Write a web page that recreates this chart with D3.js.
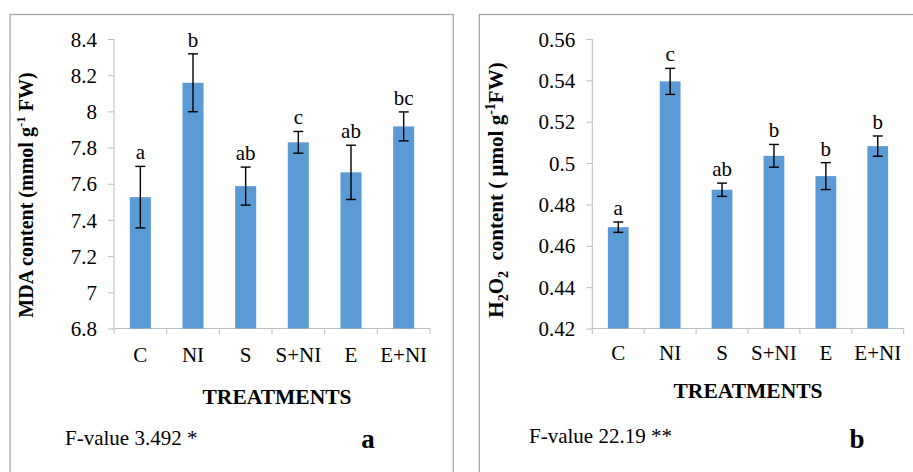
<!DOCTYPE html>
<html>
<head>
<meta charset="utf-8">
<script src="https://cdn.jsdelivr.net/npm/d3@7"></script>
<style>
  body { margin: 0; background: #fff; }
</style>
</head>
<body>
<div id="chart"></div>
<script>
// data
const treatments = ["C", "NI", "S", "S+NI", "E", "E+NI"];

const mdaValues  = [7.526, 8.158, 7.587, 7.829, 7.663, 7.917];
const mdaErrors  = [0.170, 0.160, 0.105, 0.060, 0.150, 0.080];
const mdaLetters = ["a", "b", "ab", "c", "ab", "bc"];
const mdaTicks   = [6.8, 7, 7.2, 7.4, 7.6, 7.8, 8, 8.2, 8.4];

const h2o2Values  = [0.469, 0.5395, 0.4871, 0.5035, 0.4937, 0.5082];
const h2o2Errors  = [0.0025, 0.0063, 0.0032, 0.0055, 0.0065, 0.0049];
const h2o2Letters = ["a", "c", "ab", "b", "b", "b"];
const h2o2Ticks   = [0.42, 0.44, 0.46, 0.48, 0.5, 0.52, 0.54, 0.56];

const barColor = "#5b9bd5";
const axisColor = "#bfbfbf";
const serif = "Liberation Serif";
const fs = 21;

let svg = d3.select("#chart").append("svg")
    .attr("width", 913)
    .attr("height", 472)
    .style("font-family", serif);

function drawPanel(opt) {
    let g = svg.append("g");

    // frame of the panel
    g.append("rect")
        .attr("x", opt.frame[0])
        .attr("y", 14.5)
        .attr("width", opt.frame[1] - opt.frame[0])
        .attr("height", 500)
        .attr("fill", "none")
        .attr("stroke", "#a6a6a6")
        .attr("stroke-width", 1.3);

    let x = d3.scaleBand()
        .domain(treatments)
        .range([opt.left, opt.right]);
    let y = d3.scaleLinear()
        .domain(opt.domain)
        .range([328.5, 39]);

    // y axis
    let yAxis = g.append("g")
        .attr("transform", `translate(${opt.left},0)`)
        .call(d3.axisLeft(y).tickValues(opt.ticks).tickSize(6).tickPadding(11)
            .tickFormat(d => +d.toFixed(2) + ""));
    yAxis.attr("font-family", null).attr("font-size", null);
    yAxis.select(".domain").attr("stroke", axisColor).attr("d", `M0,328.5V39`);
    yAxis.selectAll(".tick line").attr("stroke", axisColor);
    yAxis.selectAll(".tick text")
        .attr("dy", "0.34em")
        .style("font-size", fs + "px")
        .style("font-family", serif);

    // x axis: tick marks on the band edges
    let xg = g.append("g");
    xg.append("line")
        .attr("x1", opt.left).attr("x2", opt.right)
        .attr("y1", 328.5).attr("y2", 328.5)
        .attr("stroke", axisColor);
    let edges = treatments.map(d => x(d)).concat([x.range()[1]]);
    xg.selectAll("line.edge")
        .data(edges)
        .join("line")
        .attr("class", "edge")
        .attr("x1", d => d).attr("x2", d => d)
        .attr("y1", 328.5).attr("y2", 334)
        .attr("stroke", axisColor);
    xg.selectAll("text")
        .data(treatments)
        .join("text")
        .attr("x", d => x(d) + x.bandwidth() / 2)
        .attr("y", opt.catY)
        .attr("text-anchor", "middle")
        .style("font-size", fs + "px")
        .style("font-family", serif)
        .text(d => d);

    // bars
    let bw = x.bandwidth() * 0.4;
    g.selectAll("rect.bar")
        .data(opt.values)
        .join("rect")
        .attr("class", "bar")
        .attr("x", (d, i) => x(treatments[i]) + (x.bandwidth() - bw) / 2)
        .attr("width", bw)
        .attr("y", d => y(d))
        .attr("height", d => 328.5 - y(d))
        .attr("fill", barColor);

    // error bars
    let eb = g.selectAll("g.err")
        .data(opt.values)
        .join("g")
        .attr("class", "err")
        .attr("stroke", "#000")
        .attr("stroke-width", 1.4);
    let cx = (d, i) => x(treatments[i]) + x.bandwidth() / 2;
    eb.append("line")
        .attr("x1", cx).attr("x2", cx)
        .attr("y1", (d, i) => y(d + opt.errors[i]))
        .attr("y2", (d, i) => y(d - opt.errors[i]));
    eb.append("line")
        .attr("x1", (d, i) => cx(d, i) - 5).attr("x2", (d, i) => cx(d, i) + 5)
        .attr("y1", (d, i) => y(d + opt.errors[i]))
        .attr("y2", (d, i) => y(d + opt.errors[i]));
    eb.append("line")
        .attr("x1", (d, i) => cx(d, i) - 5).attr("x2", (d, i) => cx(d, i) + 5)
        .attr("y1", (d, i) => y(d - opt.errors[i]))
        .attr("y2", (d, i) => y(d - opt.errors[i]));

    // significance letters
    g.selectAll("text.letter")
        .data(opt.values)
        .join("text")
        .attr("class", "letter")
        .attr("x", cx)
        .attr("y", (d, i) => y(d + opt.errors[i]) - 7)
        .attr("text-anchor", "middle")
        .style("font-size", fs + "px")
        .style("font-family", serif)
        .text((d, i) => opt.letters[i]);

    // axis titles
    g.append("text")
        .attr("x", (opt.left + opt.right) / 2 + opt.titleShift)
        .attr("y", opt.titleY)
        .attr("text-anchor", "middle")
        .style("font-size", "21.5px")
        .style("font-weight", "bold")
        .style("font-family", serif)
        .text("TREATMENTS");

    let yl = g.append("text")
        .attr("transform", `translate(${opt.yLabelX},${opt.yLabelY}) rotate(-90)`)
        .attr("text-anchor", "middle")
        .style("font-size", opt.yLabelSize + "px")
        .style("font-weight", "bold")
        .style("font-family", serif);
    opt.yLabel(yl);

    // notes under the chart
    g.append("text")
        .attr("x", opt.fX)
        .attr("y", opt.fY)
        .style("font-size", fs + "px")
        .style("font-family", serif)
        .text(opt.fText);
    g.append("text")
        .attr("x", opt.tagX)
        .attr("y", 448)
        .attr("text-anchor", "middle")
        .style("font-size", "27px")
        .style("font-weight", "bold")
        .style("font-family", serif)
        .text(opt.tag);
}

drawPanel({
    frame: [10, 453.3],
    left: 114, right: 430,
    domain: [6.8, 8.4],
    ticks: mdaTicks,
    values: mdaValues, errors: mdaErrors, letters: mdaLetters,
    catY: 362, titleY: 404, titleShift: 5,
    yLabelX: 33, yLabelY: 195, yLabelSize: 20,
    yLabel: t => {
        t.append("tspan").text("MDA content (mmol g");
        t.append("tspan").style("font-size", "13px").attr("dy", -8).text("-1");
        t.append("tspan").attr("dy", 8).text(" FW)");
    },
    fX: 65, fY: 445, fText: "F-value 3.492 *",
    tag: "a", tagX: 368
});

drawPanel({
    frame: [479.3, 1000],
    left: 592.3, right: 903.7,
    domain: [0.42, 0.56],
    ticks: h2o2Ticks,
    values: h2o2Values, errors: h2o2Errors, letters: h2o2Letters,
    catY: 360, titleY: 398, titleShift: 0,
    yLabelX: 503, yLabelY: 190, yLabelSize: 21,
    yLabel: t => {
        t.append("tspan").text("H");
        t.append("tspan").style("font-size", "14px").attr("dy", 5).text("2");
        t.append("tspan").attr("dy", -5).text("O");
        t.append("tspan").style("font-size", "14px").attr("dy", 5).text("2");
        t.append("tspan").attr("dy", -5).text("\u00a0 content ( \u00b5mol g");
        t.append("tspan").style("font-size", "14px").attr("dy", -8).text("-1");
        t.append("tspan").attr("dy", 8).text("FW)");
    },
    fX: 529, fY: 443, fText: "F-value 22.19 **",
    tag: "b", tagX: 857
});
</script>
</body>
</html>
